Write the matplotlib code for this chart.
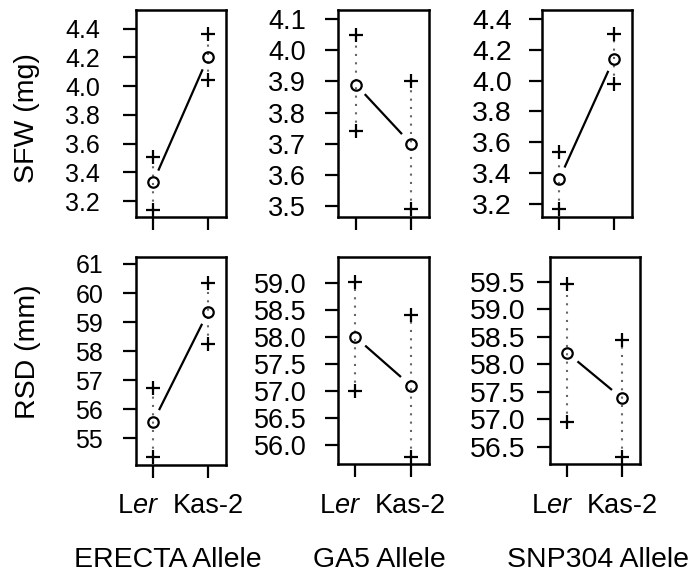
import matplotlib
matplotlib.use("Agg")
from matplotlib import pyplot as plt
from matplotlib import transforms
import numpy as np

plt.rcParams['font.family'] = ['Liberation Sans', 'DejaVu Sans']
plt.rcParams['mathtext.fontset'] = 'custom'
plt.rcParams['mathtext.rm'] = 'Liberation Sans'
plt.rcParams['mathtext.it'] = 'Liberation Sans:italic'

# data: [Ler, Kas-2] per allele
alleles = ["ERECTA Allele", "GA5 Allele", "SNP304 Allele"]
genotypes = [r"L$\mathit{er}$", "Kas-2"]
x_pos = [1, 2]

sfw_mean = [[3.33, 4.20], [3.89, 3.70], [3.36, 4.14]]
sfw_upper = [[3.51, 4.36], [4.05, 3.90], [3.54, 4.30]]
sfw_lower = [[3.14, 4.04], [3.74, 3.49], [3.17, 3.98]]

rsd_mean = [[55.57, 59.34], [58.00, 57.10], [58.20, 57.38]]
rsd_upper = [[56.74, 60.36], [59.02, 58.40], [59.45, 58.44]]
rsd_lower = [[54.35, 58.24], [57.00, 55.77], [56.94, 56.31]]

sfw_ticks = [[3.2, 3.4, 3.6, 3.8, 4.0, 4.2, 4.4],
             [3.5, 3.6, 3.7, 3.8, 3.9, 4.0, 4.1],
             [3.2, 3.4, 3.6, 3.8, 4.0, 4.2, 4.4]]
rsd_ticks = [[55, 56, 57, 58, 59, 60, 61],
             [56.0, 56.5, 57.0, 57.5, 58.0, 58.5, 59.0],
             [56.5, 57.0, 57.5, 58.0, 58.5, 59.0, 59.5]]
rsd_fmt = ["%d", "%.1f", "%.1f"]

sfw_ylim = [(3.09, 4.53), (3.464, 4.13), (3.116, 4.458)]
rsd_ylim = [(54.08, 61.23), (55.64, 59.49), (56.18, 59.94)]

W, H = 688, 573
# panel boxes in pixels: left, top, right, bottom
boxes = [[(135.5, 10, 226, 217), (338.3, 10, 429, 217), (541.7, 10, 631.7, 217)],
         [(135.7, 257.3, 226, 465), (337.7, 256.7, 429, 464.3), (550, 257.3, 640, 464.3)]]
pads = [[16, 14, 12], [14, 13, 8]]
tick_fs = [18, 19.5, 20.5]

fig = plt.figure(figsize=(W / 100, H / 100), dpi=100)


def gap_line(ax, x, y, gap=13):
    # R type="b" style: segment shortened near the points
    p = ax.transData.transform(np.column_stack([x, y]))
    d = p[1] - p[0]
    u = d / np.hypot(*d)
    q = np.array([p[0] + u * gap, p[1] - u * gap])
    q = ax.transData.inverted().transform(q)
    ax.plot(q[:, 0], q[:, 1], color='black', lw=1.6, solid_capstyle='butt')


rows = [(sfw_mean, sfw_upper, sfw_lower, sfw_ticks, sfw_ylim, ["%.1f"] * 3),
        (rsd_mean, rsd_upper, rsd_lower, rsd_ticks, rsd_ylim, rsd_fmt)]

for r, (mean, upper, lower, ticks, ylims, fmts) in enumerate(rows):
    for c in range(3):
        l, t, rr, b = boxes[r][c]
        ax = fig.add_axes([l / W, 1 - b / H, (rr - l) / W, (b - t) / H])
        ax.set_xlim(0.68, 2.33)
        ax.set_ylim(*ylims[c])
        for s in ax.spines.values():
            s.set_linewidth(1.8)
        ax.set_xticks(x_pos)
        ax.set_xticklabels([])
        ax.set_yticks(ticks[c])
        ax.set_yticklabels([fmts[c] % v for v in ticks[c]])
        ax.tick_params(direction='out', length=9.4, width=1.6, labelsize=tick_fs[c])
        ax.tick_params(axis='y', pad=pads[r][c])

        for i in range(2):
            ax.plot([x_pos[i], x_pos[i]], [lower[c][i], upper[c][i]], color='#666666',
                    lw=1.5, linestyle=(0, (1, 3)), zorder=1)
        gap_line(ax, x_pos, mean[c])
        ax.plot(x_pos, mean[c], 'o', ms=7.5, mfc='none', mec='black', mew=1.6, clip_on=False)
        ax.plot(x_pos, upper[c], '+', ms=10, mec='black', mew=1.6, clip_on=False)
        ax.plot(x_pos, lower[c], '+', ms=10, mec='black', mew=1.6, clip_on=False)

        if r == 1:
            trans = transforms.blended_transform_factory(ax.transData, fig.transFigure)
            for i in range(2):
                off = transforms.ScaledTranslation(-15 / 100 if i == 0 else 0, 0, fig.dpi_scale_trans)
                ax.text(x_pos[i], 1 - 513 / H, genotypes[i], transform=trans + off,
                        ha='center', va='baseline', fontsize=19.5)

fig.text(27 / W, 1 - 118 / H, "SFW (mg)", rotation=90, ha='center', va='center', fontsize=20.5)
fig.text(28 / W, 1 - 352 / H, "RSD (mm)", rotation=90, ha='center', va='center', fontsize=20.5)

for xc, name in zip([168, 379, 598], alleles):
    fig.text(xc / W, 1 - 567 / H, name, ha='center', va='baseline', fontsize=20.5)

fig.savefig("out.png", dpi=100)
